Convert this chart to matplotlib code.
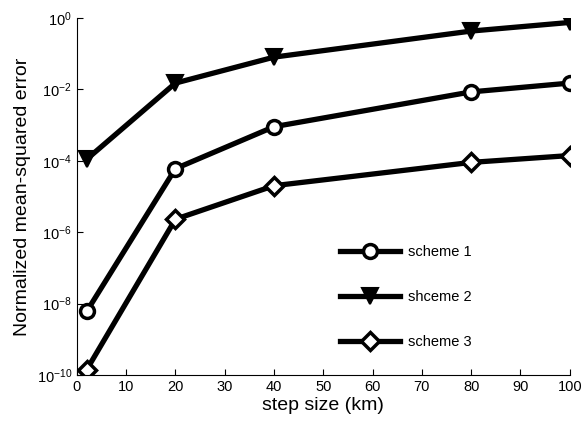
import matplotlib
matplotlib.use('Agg')
import matplotlib.pyplot as plt
import numpy as np

plt.rcParams['font.family'] = ['Liberation Sans', 'DejaVu Sans']

step = [2, 20, 40, 80, 100]
scheme1 = [6e-9, 6e-5, 9e-4, 8.5e-3, 1.5e-2]
scheme2 = [1.1e-4, 1.5e-2, 8e-2, 0.43, 0.75]
scheme3 = [1.4e-10, 2.3e-6, 2e-5, 9e-5, 1.4e-4]

fig = plt.figure(figsize=(5.82, 4.28), dpi=100)
ax = fig.add_axes([0.132, 0.124, 0.847, 0.834])

ax.semilogy(step, scheme1, '-o', color='black', lw=3.8, ms=10, mew=2.5,
            mfc='white', label='scheme 1')
ax.semilogy(step, scheme2, '-v', color='black', lw=3.8, ms=12, mew=1.5,
            mfc='black', label='shceme 2')
ax.semilogy(step, scheme3, '-D', color='black', lw=3.8, ms=9, mew=2.5,
            mfc='white', label='scheme 3')

ax.set_xlim(0, 100)
ax.set_ylim(1e-10, 1)
ax.set_xticks(np.arange(0, 101, 10))
ax.set_yticks([1e-10, 1e-8, 1e-6, 1e-4, 1e-2, 1])
ax.minorticks_off()
ax.tick_params(direction='in', labelsize=10.5, length=4)
ax.spines['top'].set_visible(False)
ax.spines['right'].set_visible(False)

ax.set_xlabel('step size (km)', fontsize=14, labelpad=2)
ax.set_ylabel('Normalized mean-squared error', fontsize=14)

ax.legend(loc='center left', bbox_to_anchor=(0.507, 0.218), frameon=False,
          fontsize=10.5, handlelength=4.1, labelspacing=2.1, handletextpad=0.55)

fig.savefig('out.png', dpi=100)
